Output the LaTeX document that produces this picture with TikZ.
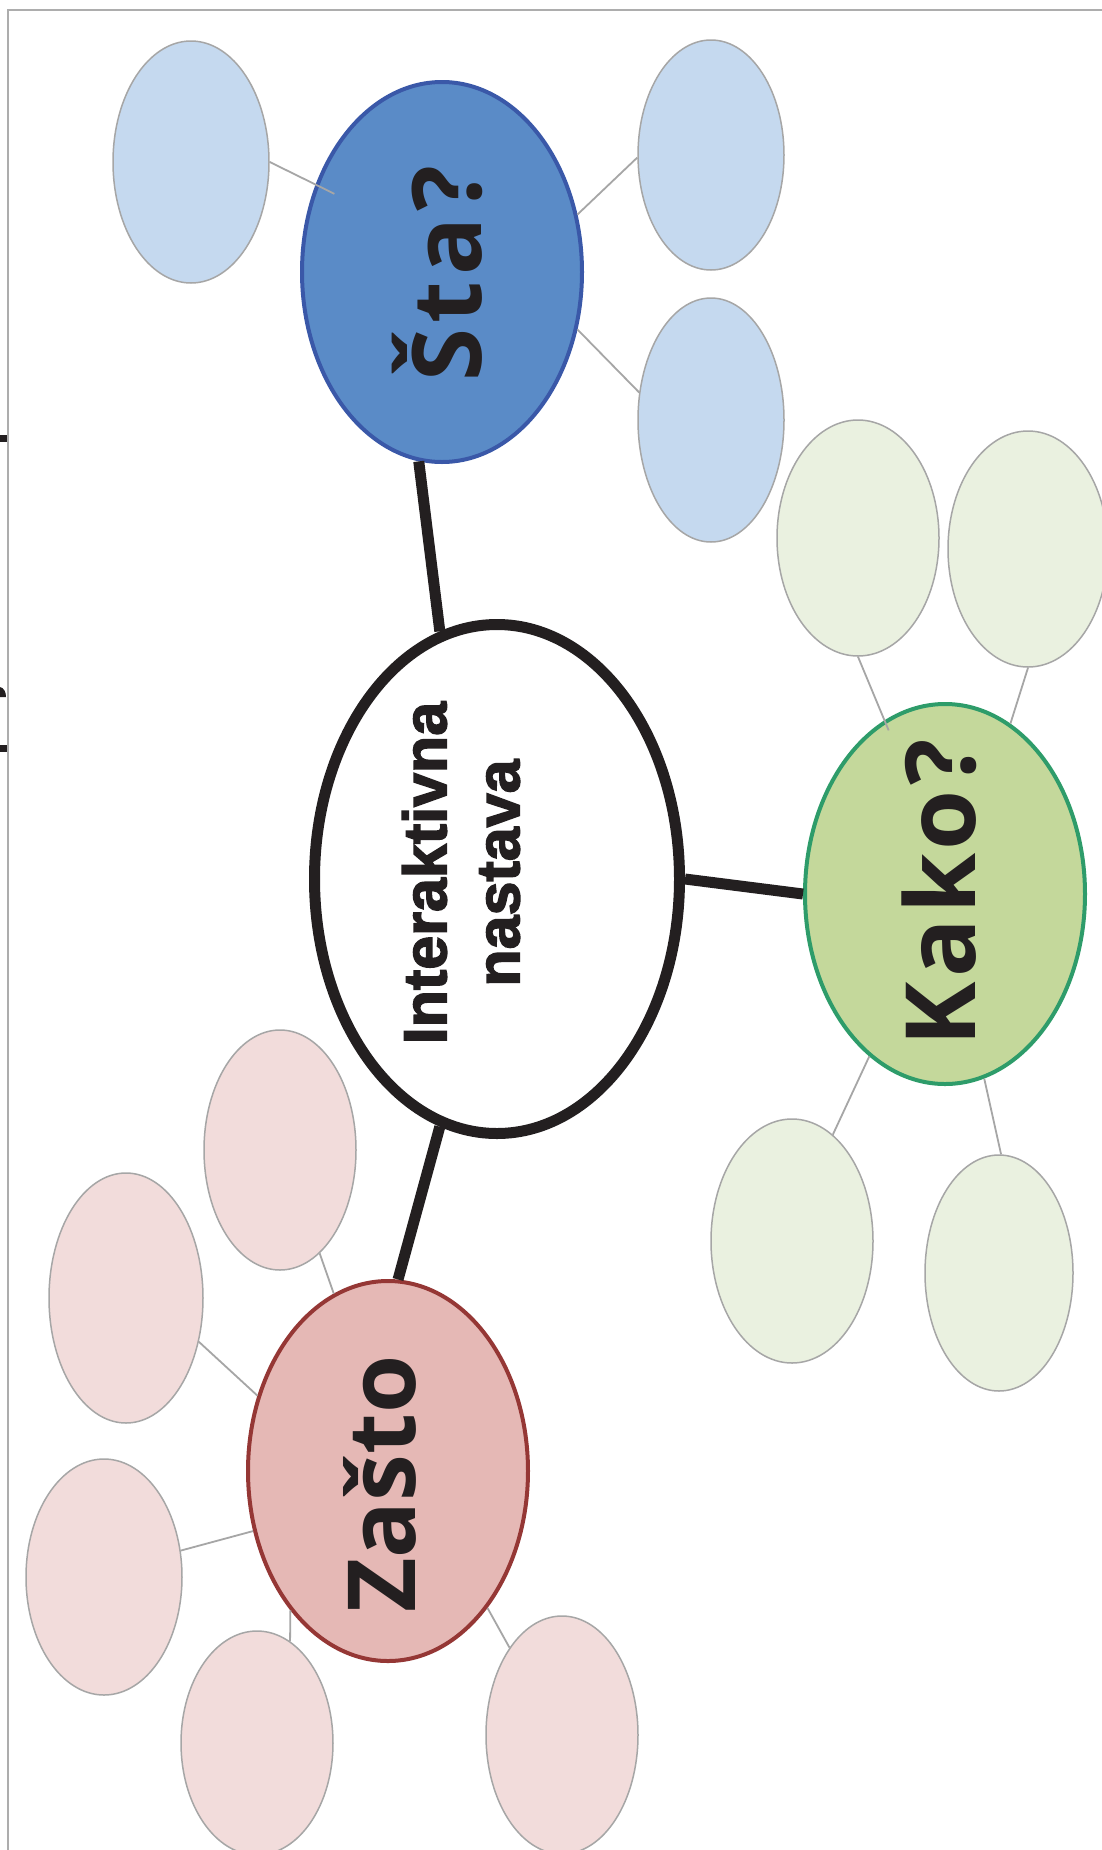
\documentclass[tikz,border=0pt]{standalone}
\usepackage{fontspec}
\usetikzlibrary{shapes.geometric,calc}
\newfontfamily\cfont{Liberation Sans}[BoldFeatures={FakeBold=2.5}]
\newfontfamily\qfont{Open Sans}
\definecolor{ink}{HTML}{231F20}
\definecolor{frame}{HTML}{ADADAD}
\definecolor{thin}{HTML}{A6A6A6}
\definecolor{stafill}{HTML}{5A8BC7}
\definecolor{staline}{HTML}{3A58A8}
\definecolor{bluelight}{HTML}{C5D9EF}
\definecolor{kakofill}{HTML}{C4D89B}
\definecolor{kakoline}{HTML}{2E9C6A}
\definecolor{greenlight}{HTML}{EAF1E0}
\definecolor{zastofill}{HTML}{E5B8B5}
\definecolor{zastoline}{HTML}{953735}
\definecolor{pinklight}{HTML}{F2DCDB}
\tikzset{
  bubble/.style={ellipse, inner sep=0pt},
  bigq/.style={bubble, line width=4pt, minimum width=280pt, minimum height=380pt},
  smallb/.style={bubble, draw=thin, line width=1.5pt},
  conn/.style={draw=thin, line width=1.8pt},
  thick/.style={draw=ink, line width=11pt},
  qtext/.style={rotate=90, anchor=base, text=ink, inner sep=0pt},
}
\begin{document}
\begin{tikzpicture}[x=1pt,y=-1pt]
\useasboundingbox (0,0) rectangle (1102,1850);
\clip (0,0) rectangle (1102,1850);
\fill[white] (0,0) rectangle (1102,1850);
% frame
\draw[frame, line width=2pt] (7.5,1850) -- (7.5,10) -- (1102,10);
\fill[ink] (0,435) rectangle (6.5,442);
\fill[ink] (0,687) .. controls (4,688) and (6,692) .. (6,697) -- (0,697) -- cycle;
\fill[ink] (0,745) rectangle (6.5,752);

% small bubbles
\node[smallb, fill=bluelight, minimum width=156pt, minimum height=242pt] (b1) at (191,162) {};
\node[smallb, fill=bluelight, minimum width=146pt, minimum height=230pt] (b2) at (711,155) {};
\node[smallb, fill=bluelight, minimum width=146pt, minimum height=244pt] (b3) at (711,420) {};
\node[smallb, fill=greenlight, minimum width=162pt, minimum height=236pt] (g1) at (858,538) {};
\node[smallb, fill=greenlight, minimum width=160pt, minimum height=236pt] (g2) at (1028,549) {};
\node[smallb, fill=greenlight, minimum width=162pt, minimum height=244pt] (g3) at (792,1241) {};
\node[smallb, fill=greenlight, minimum width=148pt, minimum height=236pt] (g4) at (999,1273) {};
\node[smallb, fill=pinklight, minimum width=152pt, minimum height=240pt] (p1) at (280,1150) {};
\node[smallb, fill=pinklight, minimum width=154pt, minimum height=250pt] (p2) at (126,1298) {};
\node[smallb, fill=pinklight, minimum width=156pt, minimum height=236pt] (p3) at (104,1577) {};
\node[smallb, fill=pinklight, minimum width=152pt, minimum height=224pt] (p4) at (257,1743) {};
\node[smallb, fill=pinklight, minimum width=152pt, minimum height=238pt] (p5) at (562,1735) {};

% main bubbles
\node[bigq, fill=stafill, draw=staline] (sta) at (442,272) {};
\node[bigq, fill=kakofill, draw=kakoline] (kako) at (945,894) {};
\node[bigq, fill=zastofill, draw=zastoline] (zasto) at (388,1471) {};
\node[bubble, draw=ink, fill=white, line width=11pt, minimum width=365pt, minimum height=509pt] (c) at (497,879) {};

% thick connectors
\draw[thick] (sta.263) -- (c.103);
\draw[thick] (c.east) -- (kako.west);
\draw[thick] (c.257) -- (zasto.87);

% thin connectors
\draw[conn] (b1.0) -- ($(sta)!0.86!(sta.144.5)$);
\draw[conn] (b2.182) -- (sta.23.4);
\draw[conn] (b3.159) -- (sta.337.8);
\draw[conn] (g1.270) -- ($(kako)!0.94!(kako.109.7)$);
\draw[conn] (g2.270) -- (kako.69.9);
\draw[conn] (g3.69.8) -- (kako.245.2);
\draw[conn] (g4.89) -- (kako.282.8);
\draw[conn] (p1.291.2) -- (zasto.107);
\draw[conn] (p2.329.5) -- (zasto.150.4);
\draw[conn] (p3.19.1) -- (zasto.204.6);
\draw[conn] (p4.72.2) -- (zasto.235);
\draw[conn] (p5.121.5) -- (zasto.306.6);

% labels
\node[rotate=90, align=center, text=ink, inner sep=0pt,
      font=\cfont\bfseries\fontsize{61}{73}\selectfont] (tc) at (461,873) {Interaktivna\\nastava};
\node[qtext, font=\qfont\bfseries\fontsize{96}{96}\selectfont\addfontfeature{LetterSpace=6}] (tsta) at (481,274) {Šta?};
\node[qtext, font=\qfont\bfseries\fontsize{97}{97}\selectfont\addfontfeature{LetterSpace=5}] (tkako) at (975,893) {Kako?};
\node[qtext, font=\qfont\bfseries\fontsize{94}{94}\selectfont] (tzasto) at (415,1484) {Zašto};
\end{tikzpicture}
\end{document}
